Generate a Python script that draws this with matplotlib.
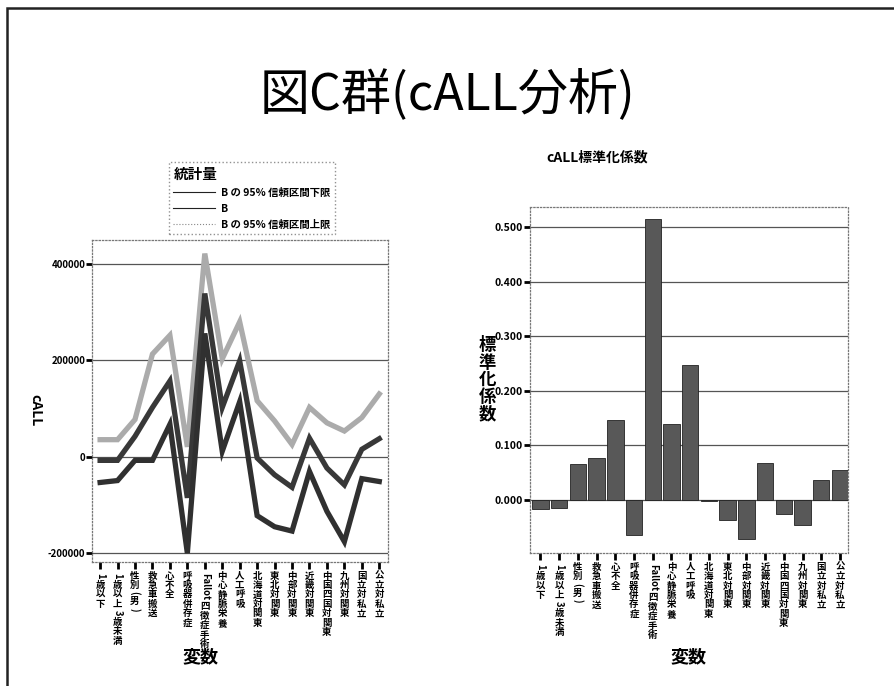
import matplotlib
matplotlib.use("Agg")
import matplotlib.pyplot as plt
from matplotlib.lines import Line2D
from matplotlib.patches import Rectangle
from matplotlib.font_manager import FontProperties

plt.rcParams['font.family'] = ['Noto Sans CJK JP', 'DejaVu Sans']

# variables (x axis, both charts)
categories = ['1歳以下', '1歳以上3歳未満', '性別(男)', '救急車搬送', '心不全',
              '呼吸器併存症', 'Fallot四徴症手術', '中心静脈栄養', '人工呼吸',
              '北海道対関東', '東北対関東', '中部対関東', '近畿対関東',
              '中国四国対関東', '九州対関東', '国立対私立', '公立対私立']

# left chart: B and its 95% confidence interval
ci_upper = [35000, 35000, 77000, 213000, 252000, 20000, 422000, 203000, 280000,
            116000, 74000, 25000, 102000, 70000, 53000, 81000, 130000]
b_vals = [-8000, -8000, 42000, 102000, 157000, -86000, 339000, 102000, 199000,
          -3000, -38000, -64000, 38000, -24000, -59000, 15000, 37000]
ci_lower = [-54000, -50000, -8000, -8000, 67000, -201000, 256000, 11000, 114000,
            -123000, -146000, -155000, -31000, -114000, -177000, -46000, -52000]
left_ticks = [-200000, 0, 200000, 400000]

# right chart: standardized coefficients
std_coef = [-0.018, -0.015, 0.066, 0.077, 0.147, -0.066, 0.516, 0.139, 0.248,
            -0.002, -0.038, -0.072, 0.067, -0.026, -0.046, 0.036, 0.055]
right_ticks = [0.0, 0.1, 0.2, 0.3, 0.4, 0.5]

legend_labels = ['B の 95% 信頼区間下限', 'B', 'B の 95% 信頼区間上限']


def is_cjk(ch):
    return ord(ch[0]) >= 0x2E80


def split_pieces(label):
    # cjk chars one by one, latin/digit runs kept together
    pieces = []
    run = ''
    for ch in label:
        if is_cjk(ch):
            if run:
                pieces.append(run)
                run = ''
            pieces.append(ch)
        else:
            run += ch
    if run:
        pieces.append(run)
    return pieces


def vertical_labels(fig, ax, labels, fs=6.8):
    # tategaki style: cjk upright, latin/digits rotated
    renderer = fig.canvas.get_renderer()
    prop = FontProperties(family=['Noto Sans CJK JP', 'DejaVu Sans'], weight='bold', size=fs)
    for i, label in enumerate(labels):
        offset = 6.5
        for p in split_pieces(label):
            if is_cjk(p):
                size = fs * 1.0
                rot = 0
            else:
                w, h, d = renderer.get_text_width_height_descent(p, prop, ismath=False)
                size = w * 72.0 / fig.dpi + 2.5
                rot = -90
            ax.annotate(p, xy=(i, 0), xycoords=('data', 'axes fraction'),
                        xytext=(0, -(offset + size / 2)), textcoords='offset points',
                        ha='center', va='center', fontproperties=prop,
                        rotation=rot, annotation_clip=False)
            offset += size


def style_axes(ax, labelsize):
    for s in ax.spines.values():
        s.set_linestyle(':')
        s.set_color('#777777')
        s.set_linewidth(0.9)
    ax.tick_params(axis='y', length=4, width=2, direction='out', labelsize=labelsize, pad=1)
    ax.tick_params(axis='x', length=5, width=2, direction='out', labelbottom=False)
    for lab in ax.get_yticklabels():
        lab.set_fontweight('bold')


fig = plt.figure(figsize=(8.94, 6.86), dpi=100)

# page frame
fig.add_artist(Rectangle((0.008, -0.05), 1.1, 1.038, transform=fig.transFigure,
                         fill=False, edgecolor='#222222', linewidth=1.8))

fig.text(0.5, 0.862, '図C群(cALL分析)', ha='center', va='center', fontsize=36)

# ---- left chart ----
ax1 = fig.add_axes([0.103, 0.181, 0.331, 0.469])
x = list(range(len(categories)))
ax1.plot(x, ci_upper, color='#ababab', linewidth=3.8, solid_joinstyle='miter', zorder=3)
ax1.plot(x, b_vals, color='#383838', linewidth=3.8, solid_joinstyle='miter', zorder=4)
ax1.plot(x, ci_lower, color='#303030', linewidth=3.8, solid_joinstyle='miter', zorder=4)
for t in left_ticks:
    ax1.axhline(t, color='#555555', linewidth=0.9, zorder=1)
ax1.set_xlim(-0.46, 16.5)
ax1.set_ylim(-219000, 450000)
ax1.set_yticks(left_ticks)
ax1.set_yticklabels([str(t) for t in left_ticks])
ax1.set_xticks(x)
style_axes(ax1, 7)
vertical_labels(fig, ax1, categories)
ax1.set_ylabel('cALL', rotation=270, fontsize=10, fontweight='bold', va='center')
ax1.yaxis.set_label_coords(-0.19, 0.472)

handles = [Line2D([], [], color='#222222', linewidth=0.8),
           Line2D([], [], color='#222222', linewidth=0.8),
           Line2D([], [], color='#888888', linewidth=0.8, linestyle=':')]
leg = fig.legend(handles, legend_labels, title='統計量', loc='upper left',
                 bbox_to_anchor=(0.183, 0.772), fontsize=7.5, handlelength=4.0,
                 handletextpad=0.6, labelspacing=0.55, borderpad=0.45,
                 fancybox=False, edgecolor='#777777',
                 title_fontproperties={'size': 10.5, 'weight': 'bold'})
leg._legend_box.align = 'left'
leg.get_frame().set_linestyle(':')
for t in leg.get_texts():
    t.set_fontweight('bold')

fig.text(0.224, 0.042, '変数', ha='center', va='center', fontsize=13, fontweight='bold')

# ---- right chart ----
ax2 = fig.add_axes([0.593, 0.194, 0.356, 0.504])
for t in right_ticks:
    ax2.axhline(t, color='#555555', linewidth=0.9, zorder=1)
ax2.bar(x, std_coef, width=0.88, color='#585858', edgecolor='#222222',
        linewidth=0.6, zorder=3)
ax2.set_xlim(-0.55, 16.45)
ax2.set_ylim(-0.098, 0.537)
ax2.set_yticks(right_ticks)
ax2.set_yticklabels(['%.3f' % t for t in right_ticks])
ax2.set_xticks(x)
style_axes(ax2, 7.5)
vertical_labels(fig, ax2, categories)
ax2.set_ylabel('\n'.join('標準化係数'), rotation=0, fontsize=12.5,
               fontweight='bold', linespacing=0.95, va='center')
ax2.yaxis.set_label_coords(-0.135, 0.5)
fig.text(0.668, 0.771, 'cALL標準化係数', ha='center', va='center',
         fontsize=10, fontweight='bold')
fig.text(0.770, 0.042, '変数', ha='center', va='center', fontsize=13, fontweight='bold')

fig.savefig('out.png', dpi=100)
